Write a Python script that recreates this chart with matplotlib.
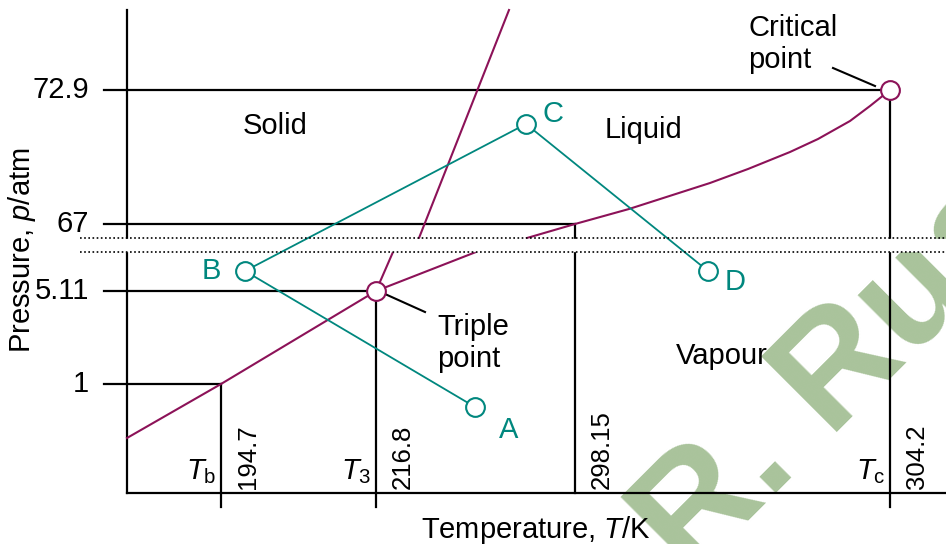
import matplotlib
matplotlib.use('Agg')
import matplotlib.pyplot as plt

plt.rcParams['font.family'] = ['Liberation Sans', 'DejaVu Sans']
plt.rcParams['mathtext.fontset'] = 'custom'
plt.rcParams['mathtext.rm'] = 'Liberation Sans'
plt.rcParams['mathtext.it'] = 'Liberation Sans:italic'

# schematic diagram (not to scale): positions are in drawing units
p_labels = ['1', '5.11', '67', '72.9']
p_pos = [384, 291, 224, 90]
T_labels = ['194.7', '216.8', '298.15', '304.2']
T_names = [r'$T_{\mathrm{b}}$', r'$T_{3}$', '', r'$T_{\mathrm{c}}$']
T_pos = [221, 376, 575, 890]

# phase boundaries
subl_x = [127, 221, 376]
subl_y = [438, 384, 291]
melt_lo_x = [376, 393]
melt_lo_y = [291, 252]
melt_hi_x = [419, 509]
melt_hi_y = [238, 10]
vap_lo_x = [376, 476]
vap_lo_y = [291, 252]
vap_hi_x = [527, 575, 629, 710, 748, 790, 818, 850, 870, 890]
vap_hi_y = [238, 224, 209, 183, 169, 152, 139, 121, 106, 90]

# path A -> B -> C -> D
path_names = ['A', 'B', 'C', 'D']
path_x = [475, 245, 526, 708]
path_y = [407, 271, 124, 271]

purple = '#8c1258'
teal = '#00877e'
fs = 21

fig = plt.figure(figsize=(9.46, 5.44), dpi=100)
ax = fig.add_axes([0, 0, 1, 1])
ax.set_xlim(0, 946)
ax.set_ylim(544, 0)
ax.axis('off')

ax.text(690, 580, 'R. Rush', fontsize=112, color='#a9c39b', rotation=45,
        fontweight='bold', rotation_mode='anchor', ha='left', va='baseline', zorder=0)

# axes
ax.plot([127, 127], [10, 493], color='black', lw=1.6, zorder=2)
ax.plot([127, 946], [493, 493], color='black', lw=1.6, zorder=2)

for i in range(len(T_pos)):
    ax.plot([104, T_pos[i]], [p_pos[i], p_pos[i]], color='black', lw=1.6, zorder=2)
    ax.text(89, p_pos[i], p_labels[i], fontsize=fs, ha='right', va='center')
    bottom = 493 if T_labels[i] == '298.15' else 507
    ax.plot([T_pos[i], T_pos[i]], [p_pos[i], bottom], color='black', lw=1.6, zorder=2)
    ax.text(T_pos[i] + 34, 489, T_labels[i], fontsize=18.5, rotation=90,
            rotation_mode='anchor', ha='left', va='baseline')
    if T_names[i]:
        ax.text(T_pos[i] - 5, 479, T_names[i], fontsize=fs, ha='right', va='baseline')

ax.plot(subl_x, subl_y, color=purple, lw=1.5, zorder=2)
ax.plot(melt_lo_x, melt_lo_y, color=purple, lw=1.5, zorder=2)
ax.plot(melt_hi_x, melt_hi_y, color=purple, lw=1.5, zorder=2)
ax.plot(vap_lo_x, vap_lo_y, color=purple, lw=1.5, zorder=2)
ax.plot(vap_hi_x, vap_hi_y, color=purple, lw=1.5, zorder=2)

# axis break
ax.axhspan(239, 251, color='white', zorder=3)
ax.plot([80, 946], [238, 238], color='black', lw=1.2, ls=(0, (1, 1.5)), zorder=5)
ax.plot([80, 946], [252, 252], color='black', lw=1.2, ls=(0, (1, 1.5)), zorder=5)

# special points
ax.plot([subl_x[-1], vap_hi_x[-1]], [subl_y[-1], vap_hi_y[-1]], ls='none', marker='o',
        ms=13.5, mfc='white', mec=purple, mew=1.5, zorder=6)
ax.plot([385, 425], [294, 312], color='black', lw=1.5, zorder=5)
ax.plot([833, 875], [68, 86], color='black', lw=1.5, zorder=5)

ax.plot(path_x, path_y, color=teal, lw=1.3, zorder=4)
ax.plot(path_x, path_y, ls='none', marker='o', ms=13.5, mfc='white', mec=teal,
        mew=1.5, zorder=6)
label_off = [(34, 23), (-34, 0), (27, -10), (27, 11)]
for i in range(len(path_names)):
    ax.text(path_x[i] + label_off[i][0], path_y[i] + label_off[i][1], path_names[i],
            fontsize=fs, color=teal, ha='center', va='center')

ax.text(275, 126, 'Solid', fontsize=fs, ha='center', va='center')
ax.text(643, 130, 'Liquid', fontsize=fs, ha='center', va='center')
ax.text(722, 356, 'Vapour', fontsize=fs, ha='center', va='center')
ax.text(437, 343, 'Triple\npoint', fontsize=fs, ha='left', va='center', linespacing=1.2)
ax.text(748, 44, 'Critical\npoint', fontsize=fs, ha='left', va='center', linespacing=1.2)

ax.text(22, 250, 'Pressure, $p$/atm', fontsize=fs, rotation=90, ha='center', va='center')
ax.text(421, 538, 'Temperature, $T$/K', fontsize=fs, ha='left', va='baseline')

fig.savefig('out.png', dpi=100)
